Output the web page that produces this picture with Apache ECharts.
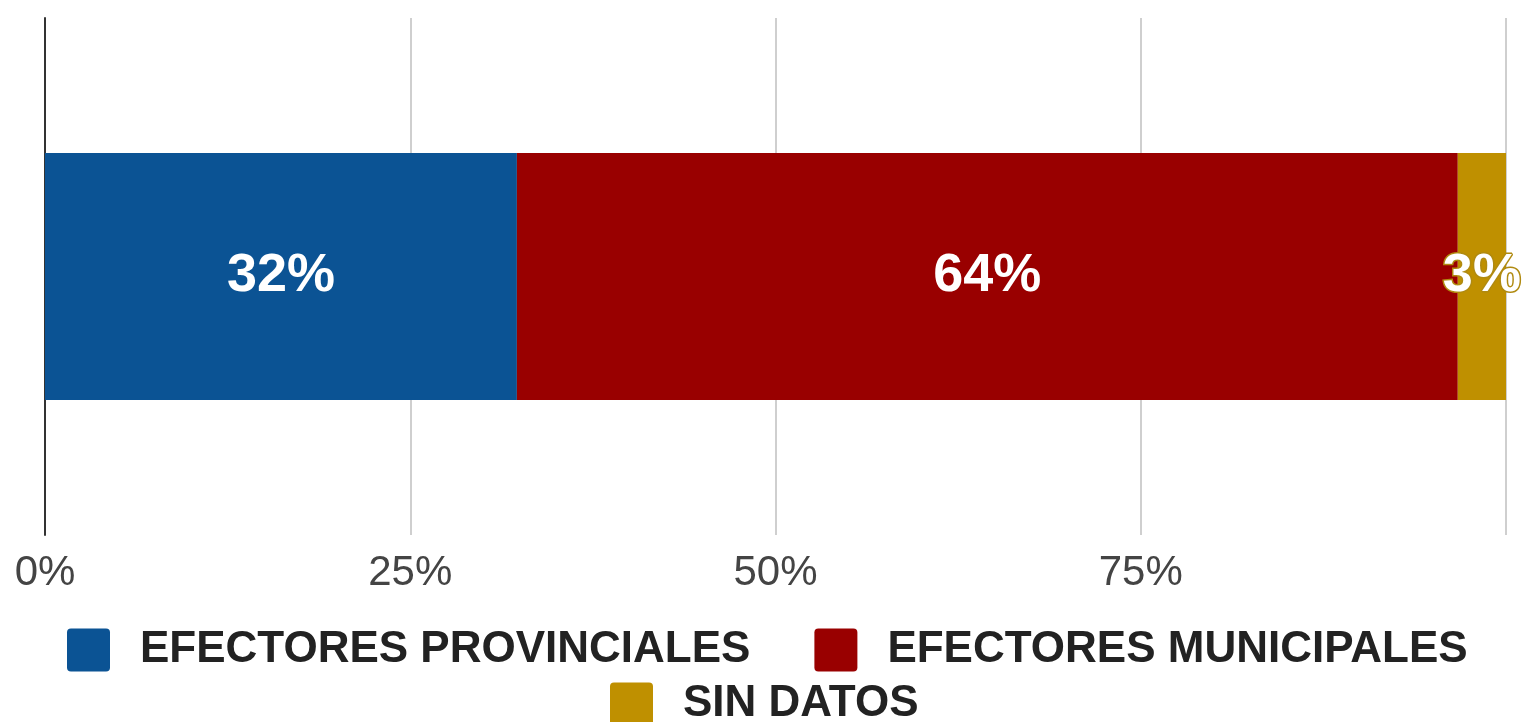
<!DOCTYPE html>
<html>
<head>
<meta charset="utf-8">
<script src="https://cdn.jsdelivr.net/npm/echarts@6/dist/echarts.min.js"></script>
<style>html,body{margin:0;padding:0;background:#fff}#c{width:1526px;height:722px}</style>
</head>
<body>
<div id="c"></div>
<script>
const categories = ['Total'];
const seriesNames = ['EFECTORES PROVINCIALES', 'EFECTORES MUNICIPALES', 'SIN DATOS'];
const provinciales = [32.3];
const municipales = [64.4];
const sinDatos = [3.3];
const tickValues = [0, 25, 50, 75];
const colors = ['#0b5394', '#990000', '#bf9000'];

const chart = echarts.init(document.getElementById('c'));
const FONT = 'Liberation Sans, Arial, sans-serif';
function mkSeries(name, data, color, extra) {
  return Object.assign({
    name: name, type: 'bar', stack: 'total', data: data, barWidth: 247,
    itemStyle: { color: color },
    label: {
      show: true, position: 'inside', color: '#fff', fontFamily: FONT,
      fontWeight: 'bold', fontSize: 54,
      formatter: p => Math.round(p.value) + '%'
    }
  }, extra || {});
}
const legendCommon = {
  itemWidth: 43, itemHeight: 43,
  icon: 'path://M4,0 L39,0 Q43,0 43,4 L43,39 Q43,43 39,43 L4,43 Q0,43 0,39 L0,4 Q0,0 4,0 Z',
  itemGap: 64,
  textStyle: { fontFamily: FONT, fontWeight: 'bold', fontSize: 44, color: '#222', padding: [0, 0, 0, 25] }
};
chart.setOption({
  animation: false,
  color: colors,
  grid: { left: 45, right: 20, top: 18, bottom: 187 },
  legend: [
    Object.assign({}, legendCommon, { data: seriesNames.slice(0, 2), left: 62, top: 623 }),
    Object.assign({}, legendCommon, { data: seriesNames.slice(2), left: 605, top: 677 })
  ],
  xAxis: {
    type: 'value', min: 0, max: 100, interval: 25,
    axisLine: { show: false }, axisTick: { show: false },
    splitLine: { show: true, lineStyle: { color: '#cfcfcf', width: 2 } },
    axisLabel: {
      fontFamily: FONT, fontSize: 42, color: '#444', margin: 17,
      formatter: v => tickValues.indexOf(v) >= 0 ? v + '%' : ''
    }
  },
  yAxis: {
    type: 'category', data: categories,
    axisLine: { show: true, lineStyle: { color: '#333', width: 2 } },
    axisTick: { show: false }, axisLabel: { show: false }
  },
  series: [
    mkSeries(seriesNames[0], provinciales, colors[0]),
    mkSeries(seriesNames[1], municipales, colors[1]),
    mkSeries(seriesNames[2], sinDatos, colors[2], {
      label: {
        show: true, position: 'inside', color: '#fff', fontFamily: FONT,
        fontWeight: 'bold', fontSize: 54, textBorderColor: '#b08a10', textBorderWidth: 3,
        formatter: p => Math.round(p.value) + '%'
      }
    })
  ]
});
</script>
</body>
</html>
